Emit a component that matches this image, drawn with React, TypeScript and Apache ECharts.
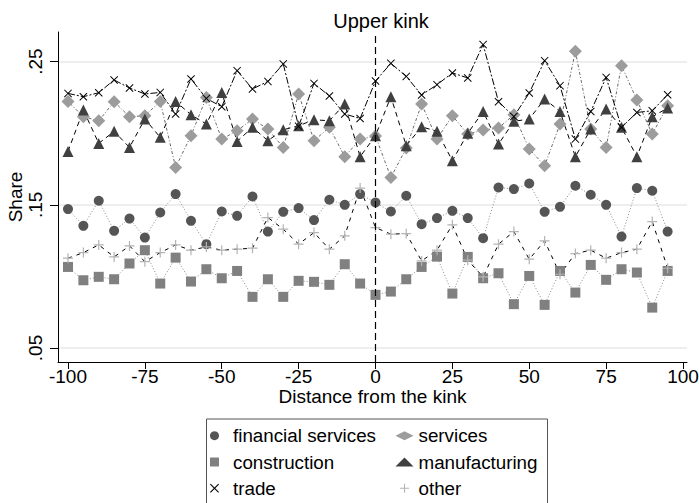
import React, { useEffect, useRef } from "react";
import * as echarts from "echarts";

const distance = [
  -100, -95, -90, -85, -80, -75, -70, -65, -60, -55, -50, -45, -40, -35, -30, -25, -20, -15, -10, -5,
  0, 5, 10, 15, 20, 25, 30, 35, 40, 45, 50, 55, 60, 65, 70, 75, 80, 85, 90, 95,
];

const financialServices = [
  0.147, 0.1353, 0.1528, 0.1318, 0.1404, 0.1271, 0.1446, 0.1575, 0.1388, 0.1225, 0.1453, 0.1423,
  0.1558, 0.1313, 0.1451, 0.1477, 0.1393, 0.1535, 0.15, 0.1575, 0.1516, 0.1453, 0.1563, 0.1365,
  0.1407, 0.1458, 0.1407, 0.1267, 0.1621, 0.161, 0.1649, 0.1451, 0.1486, 0.1633, 0.157, 0.15,
  0.1278, 0.1617, 0.1598, 0.1313,
];

const services = [
  0.2222, 0.2115, 0.2087, 0.222, 0.2115, 0.2122, 0.2222, 0.1761, 0.1983, 0.225, 0.1959, 0.2017,
  0.2099, 0.2029, 0.1901, 0.2274, 0.1948, 0.2041, 0.1836, 0.1959, 0.198, 0.1691, 0.1897, 0.2204,
  0.1959, 0.2122, 0.1994, 0.2022, 0.2036, 0.2129, 0.189, 0.1773, 0.2064, 0.2572, 0.2029, 0.1901,
  0.2472, 0.2232, 0.1994, 0.2192,
];

const construction = [
  0.1066, 0.0973, 0.0997, 0.098, 0.109, 0.1183, 0.095, 0.1131, 0.0964, 0.105, 0.0987, 0.1038,
  0.0857, 0.098, 0.0857, 0.0969, 0.0962, 0.0941, 0.1085, 0.095, 0.0871, 0.0894, 0.098, 0.1066,
  0.1138, 0.088, 0.1136, 0.0987, 0.1022, 0.0806, 0.1003, 0.0801, 0.1038, 0.0887, 0.108, 0.0976,
  0.105, 0.1027, 0.0782, 0.1038,
];

const manufacturing = [
  0.1873, 0.2162, 0.1929, 0.2013, 0.1901, 0.2099, 0.1971, 0.2222, 0.2129, 0.2064, 0.2285, 0.1943,
  0.2041, 0.1948, 0.2024, 0.2052, 0.2094, 0.2087, 0.2204, 0.1836, 0.1983, 0.2255, 0.1913, 0.2045,
  0.2013, 0.1808, 0.1999, 0.2152, 0.1924, 0.2083, 0.2099, 0.2239, 0.2152, 0.1836, 0.2029, 0.2169,
  0.2041, 0.1836, 0.2115, 0.2176,
];

const trade = [
  0.2278, 0.2255, 0.2283, 0.2372, 0.2316, 0.2274, 0.2285, 0.2134, 0.2379, 0.2243, 0.2185, 0.2437,
  0.2309, 0.2362, 0.2484, 0.2048, 0.2348, 0.226, 0.2134, 0.2103, 0.2365, 0.2488, 0.2397, 0.2267,
  0.2339, 0.2421, 0.2386, 0.2619, 0.222, 0.2117, 0.2281, 0.2507, 0.2332, 0.1959, 0.2152, 0.239,
  0.2041, 0.2145, 0.2157, 0.2269,
];

const other = [
  0.1127, 0.1166, 0.122, 0.1136, 0.1213, 0.1103, 0.1166, 0.122, 0.1183, 0.1206, 0.1183, 0.119,
  0.1197, 0.1411, 0.133, 0.1225, 0.1306, 0.119, 0.1283, 0.1617, 0.1341, 0.1295, 0.1299, 0.1108,
  0.1183, 0.136, 0.1113, 0.0997, 0.1225, 0.1313, 0.112, 0.1248, 0.1015, 0.1159, 0.1183, 0.1127,
  0.1166, 0.119, 0.1383, 0.1057,
];

const xTicks = [-100, -75, -50, -25, 0, 25, 50, 75, 100];
const yTicks = [0.05, 0.15, 0.25];
const yTickLabels = [".05", ".15", ".25"];

const FONT = "'Liberation Sans', Arial, sans-serif";

// marker outlines drawn filled: thin "+", thin "x" and a square that keeps its aspect
const PLUS = "path://M4.4,0H5.6V4.4H10V5.6H5.6V10H4.4V5.6H0V4.4H4.4Z";
const CROSS =
  "path://M0,0.85L0.85,0L5,4.15L9.15,0L10,0.85L5.85,5L10,9.15L9.15,10L5,5.85L0.85,10L0,9.15L4.15,5Z";
const SQUARE = "path://M0,0H10V10H0Z";

const pairs = (ys: number[]) => distance.map((x, i) => [x, ys[i]]);

export default function App() {
  const ref = useRef<HTMLDivElement>(null);

  useEffect(() => {
    if (!ref.current) return;
    const chart = echarts.init(ref.current, null, { renderer: "svg" });

    const lineSeries = (
      name: string,
      values: number[],
      symbol: string,
      size: number,
      fill: string,
      lineColor: string,
      dash: number[] | string,
      extra: any = {}
    ) => ({
      name,
      type: "line",
      data: pairs(values),
      symbol,
      symbolSize: size,
      showSymbol: true,
      itemStyle: { color: fill, opacity: 1 },
      lineStyle: { color: lineColor, width: 1, type: dash },
      emphasis: { disabled: true },
      z: 3,
      ...extra,
    });

    const legendText = { fontFamily: FONT, fontSize: 18.8, color: "#000", lineHeight: 22 };

    const option: any = {
      animation: false,
      backgroundColor: "#ffffff",
      textStyle: { fontFamily: FONT },
      title: {
        text: "Upper kink",
        left: 376,
        top: 6,
        textAlign: "center",
        textStyle: { fontFamily: FONT, fontSize: 20, fontWeight: "normal", color: "#000" },
      },
      grid: {
        left: 58,
        right: 12,
        top: 32,
        bottom: 141,
        containLabel: false,
        outerBoundsMode: "none",
      },
      xAxis: {
        type: "value",
        min: -103.25,
        max: 101.3,
        name: "Distance from the kink",
        nameLocation: "middle",
        nameGap: 25,
        nameMoveOverlap: false,
        nameTextStyle: { fontFamily: FONT, fontSize: 19, color: "#000" },
        axisLine: { show: true, onZero: false, lineStyle: { color: "#000", width: 1 } },
        axisTick: { show: true, length: 7, customValues: xTicks, lineStyle: { color: "#000" } },
        axisLabel: {
          customValues: xTicks,
          fontFamily: FONT,
          fontSize: 19,
          color: "#000",
          margin: 5,
        },
        splitLine: { show: false },
      },
      yAxis: {
        type: "value",
        min: 0.0402,
        max: 0.2707,
        name: "Share",
        nameLocation: "middle",
        nameGap: 33,
        nameMoveOverlap: false,
        nameRotate: 90,
        nameTextStyle: { fontFamily: FONT, fontSize: 19, color: "#000" },
        axisLine: { show: true, onZero: false, lineStyle: { color: "#000", width: 1 } },
        axisTick: { show: true, length: 8, customValues: yTicks, lineStyle: { color: "#000" } },
        axisLabel: {
          customValues: yTicks,
          rotate: 90,
          fontFamily: FONT,
          fontSize: 19,
          color: "#000",
          margin: 13,
          formatter: (v: number) => {
            const i = yTicks.findIndex((t) => Math.abs(t - v) < 1e-6);
            return i >= 0 ? yTickLabels[i] : "";
          },
        },
        splitLine: { show: true, lineStyle: { color: "#e8e8e8", width: 1.5 } },
      },
      legend: [
        {
          orient: "vertical",
          left: 210,
          top: 424.7,
          padding: 0,
          itemWidth: 27,
          itemHeight: 9,
          itemGap: 4.3,
          textStyle: legendText,
          selectedMode: false,
          data: [
            { name: "financial services", icon: "circle" },
            { name: "construction", icon: SQUARE },
            { name: "trade", icon: CROSS },
          ],
        },
        {
          orient: "vertical",
          left: 395.5,
          top: 424.7,
          padding: 0,
          itemWidth: 18,
          itemHeight: 9,
          itemGap: 4.3,
          textStyle: legendText,
          selectedMode: false,
          data: [
            { name: "services", icon: "diamond" },
            { name: "manufacturing", icon: "triangle" },
            { name: "other", icon: PLUS },
          ],
        },
      ],
      graphic: [
        {
          type: "rect",
          left: 204,
          top: 416.5,
          shape: { width: 341, height: 100 },
          style: { fill: "none", stroke: "#555", lineWidth: 1 },
          silent: true,
        },
      ],
      series: [
        lineSeries("financial services", financialServices, "circle", 10, "#555555", "#8a8a8a", [1, 2], {
          markLine: {
            silent: true,
            symbol: "none",
            label: { show: false },
            lineStyle: { color: "#000", width: 1.2, type: [7, 4] },
            data: [{ xAxis: 0 }],
          },
        }),
        lineSeries("services", services, "diamond", 13, "#9c9c9c", "#6a6a6a", [1, 2, 3, 2]),
        lineSeries("construction", construction, SQUARE, 10, "#808080", "#8a8a8a", [1, 2]),
        lineSeries("manufacturing", manufacturing, "triangle", 11, "#404040", "#000", [5, 4]),
        lineSeries("trade", trade, CROSS, 8, "#000", "#000", [7, 2, 2, 2]),
        lineSeries("other", other, PLUS, 10, "#b4b4b4", "#000", [4, 5]),
      ],
    };

    chart.setOption(option);
    return () => chart.dispose();
  }, []);

  return (
    <div
      ref={ref}
      style={{ position: "fixed", left: 0, top: 0, width: 699, height: 503, background: "#fff" }}
    />
  );
}
